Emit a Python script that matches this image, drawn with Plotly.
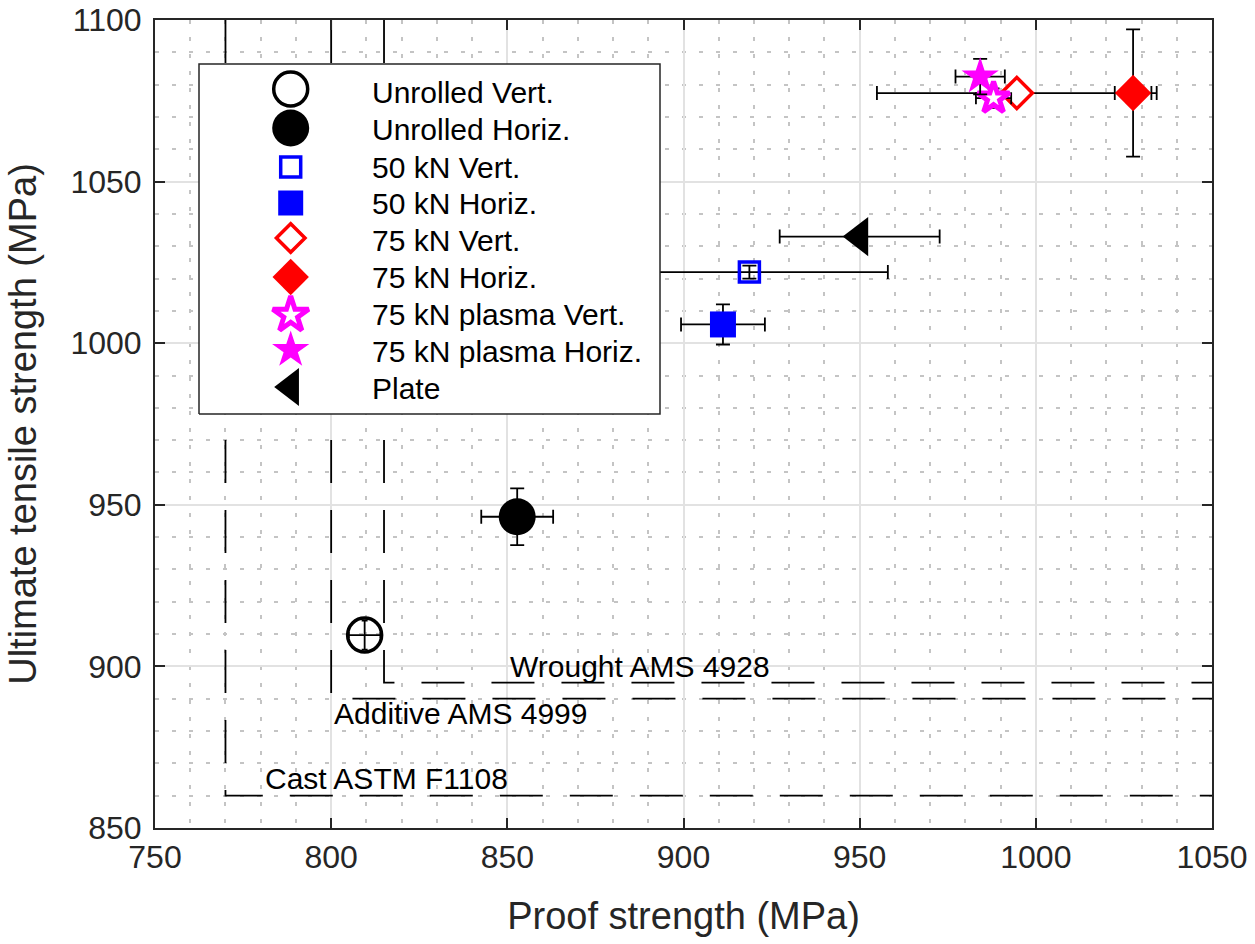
import plotly.graph_objects as go

# ---------------- data ----------------
series = ["Unrolled Vert.", "Unrolled Horiz.", "50 kN Vert.", "50 kN Horiz.",
          "75 kN Vert.", "75 kN Horiz.", "75 kN plasma Vert.",
          "75 kN plasma Horiz.", "Plate"]
proof = [809.5, 852.8, 918.7, 911.2, 994.6, 1027.6, 988.0, 984.2, 950.0]
proof_err = [4.5, 10.2, 39.3, 11.9, 39.7, 5.2, 5.0, 7.0, 22.7]
uts = [909.7, 946.3, 1022.0, 1005.8, 1077.4, 1077.4, 1075.8, 1082.5, 1033.0]
uts_err = [4.5, 8.8, 2.0, 6.2, 2.0, 19.7, 3.0, 5.5, 0.0]

spec_names = ["Cast ASTM F1108", "Additive AMS 4999", "Wrought AMS 4928"]
spec_proof = [770, 800, 815]
spec_uts = [860, 890, 895]

x_ticks = [750, 800, 850, 900, 950, 1000, 1050]
y_ticks = [850, 900, 950, 1000, 1050, 1100]

# ---------------- styles ----------------
styles = [
    dict(symbol="circle-open", size=34, color="black", line=dict(color="black", width=3.5)),
    dict(symbol="circle", size=37, color="black", line=dict(color="black", width=0)),
    dict(symbol="square-open", size=20, color="blue", line=dict(color="blue", width=3.5)),
    dict(symbol="square", size=26, color="blue", line=dict(color="blue", width=0)),
    dict(symbol="diamond", size=24, color="white", line=dict(color="red", width=3.5)),
    dict(symbol="diamond", size=28, color="red", line=dict(color="red", width=0)),
    dict(symbol="star", size=24, color="white", line=dict(color="magenta", width=5)),
    dict(symbol="star", size=28, color="magenta", line=dict(color="magenta", width=0)),
    dict(symbol="triangle-left", size=34, color="black", line=dict(color="black", width=0)),
]
cap_w = [3, 7, 7, 7, 7, 7, 6, 7, 7]

XR = [750, 1050]
YR = [850, 1100]
FONT = "Liberation Sans, Arial, Helvetica, sans-serif"
TXT = "#262626"

fig = go.Figure()

# specification limit lines
for name, px_, uy in zip(spec_names, spec_proof, spec_uts):
    fig.add_trace(go.Scatter(
        x=[px_, px_, XR[1]], y=[YR[1], uy, uy], mode="lines",
        line=dict(color="black", width=1.8, dash="43px,27px"),
        showlegend=False, hoverinfo="skip"))

# data points with error bars
for i, name in enumerate(series):
    st = styles[i]
    fig.add_trace(go.Scatter(
        x=[proof[i]], y=[uts[i]], mode="markers", name=name,
        marker=dict(symbol=st["symbol"], size=st["size"], color=st["color"],
                    line=st["line"]),
        error_x=dict(type="data", array=[proof_err[i]], color="black",
                     thickness=1.8, width=cap_w[i]),
        error_y=dict(type="data", array=[uts_err[i]], color="black",
                     thickness=1.8, width=cap_w[i], visible=uts_err[i] > 0),
        showlegend=False))

# spec labels
label_pos = [(815.7, 865.2), (836.9, 885.4), (887.7, 900.1)]
for name, (lx, ly) in zip(spec_names, label_pos):
    fig.add_annotation(x=lx, y=ly, xref="x", yref="y", text=name, showarrow=False,
                       xanchor="center", yanchor="middle",
                       font=dict(family=FONT, size=30, color="black"))

# ---------------- custom legend (overlay axes in paper-like units) ----------------
W, H = 1255, 944
ML, MR, MT, MB = 155, 43, 20, 116
pw, ph = W - ML - MR, H - MT - MB


def px2fx(px):
    return (px - ML) / pw


def py2fy(py):
    return (H - MB - py) / ph


bx0, bx1, by0, by1 = px2fx(199), px2fx(660), py2fy(414), py2fy(64)
fig.add_trace(go.Scatter(
    x=[bx0, bx1, bx1, bx0, bx0], y=[by0, by0, by1, by1, by0],
    xaxis="x2", yaxis="y2", mode="lines", fill="toself", fillcolor="white",
    line=dict(color="#262626", width=1.5), showlegend=False, hoverinfo="skip"))

row_marker_py = [89, 128, 167, 203, 238, 277, 315, 350, 387]
row_text_py = [92, 129, 167, 203, 240, 277, 314, 351, 388]
leg_sizes = [34, 37, 20, 25, 22, 28, 27, 28, 33]
for i, name in enumerate(series):
    st = styles[i]
    fig.add_trace(go.Scatter(
        x=[px2fx(290.7)], y=[py2fy(row_marker_py[i])], xaxis="x2", yaxis="y2",
        mode="markers",
        marker=dict(symbol=st["symbol"], size=leg_sizes[i], color=st["color"],
                    line=st["line"]),
        showlegend=False, hoverinfo="skip"))
    fig.add_annotation(x=px2fx(370), y=py2fy(row_text_py[i]), xref="x2", yref="y2",
                       text=name, showarrow=False, xanchor="left", yanchor="middle",
                       font=dict(family=FONT, size=30, color="black"))

axis_common = dict(
    showline=True, linecolor=TXT, linewidth=2, mirror="ticks",
    ticks="inside", ticklen=10, tickwidth=2, tickcolor=TXT,
    showgrid=True, gridcolor="#e2e2e2", gridwidth=2,
    zeroline=False, automargin=False,
    tickfont=dict(family=FONT, size=32, color=TXT),
    minor=dict(dtick=10, showgrid=True, gridcolor="#c4c4c4", griddash="4px,13px",
               gridwidth=1.5, ticks=""),
)

fig.update_layout(
    width=W, height=H,
    margin=dict(l=ML, r=MR, t=MT, b=MB, pad=0, autoexpand=False),
    paper_bgcolor="white", plot_bgcolor="white",
    showlegend=False,
    font=dict(family=FONT, color=TXT),
    xaxis=dict(range=XR, tickvals=x_ticks, title=dict(text="Proof strength (MPa)",
               font=dict(family=FONT, size=38, color=TXT), standoff=28),
               **axis_common),
    yaxis=dict(range=YR, tickvals=y_ticks, ticklabelstandoff=5,
               title=dict(text="Ultimate tensile strength (MPa)",
                          font=dict(family=FONT, size=38, color=TXT), standoff=22),
               **axis_common),
    xaxis2=dict(overlaying="x", range=[0, 1], visible=False, fixedrange=True),
    yaxis2=dict(overlaying="y", range=[0, 1], visible=False, fixedrange=True),
)

fig.write_html("out.html", config=dict(displayModeBar=False),
               post_script="document.body.style.margin='0';document.body.style.overflow='hidden';")
